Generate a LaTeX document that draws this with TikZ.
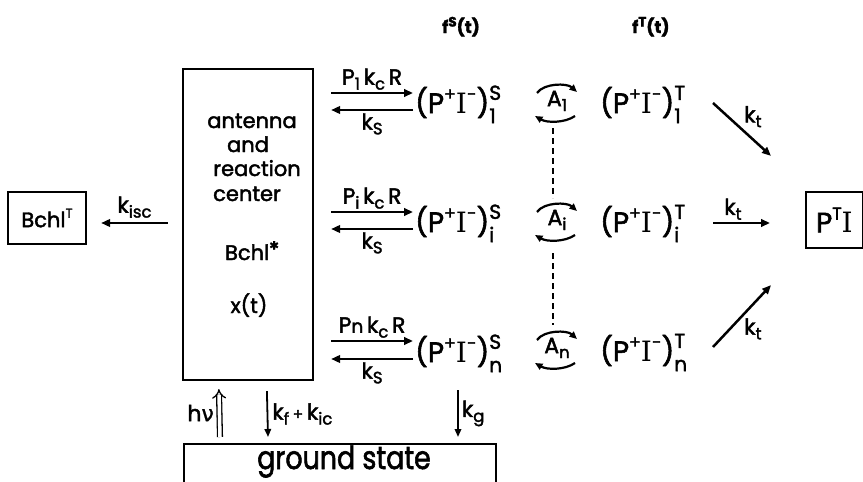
\documentclass[tikz,border=0pt]{standalone}
\usepackage{fontspec}
\usepackage{graphicx}
\setmainfont{Poppins}[FakeBold=2]
\newfontfamily\serI{DejaVu Serif}
\newfontfamily\grk{DejaVu Sans}[FakeBold=1]
\usetikzlibrary{arrows.meta,calc}
\newcommand\fz[1]{\fontsize{#1}{#1}\selectfont}
\newcommand\up[1]{\raisebox{0.45em}{\scalebox{0.62}{#1}}}
\newcommand\bup[1]{\raisebox{0.38em}{\scalebox{0.8}{#1}}}
\newcommand\dn[1]{\raisebox{-0.22em}{\scalebox{0.75}{#1}}}
\newcommand\ud[2]{\rlap{\raisebox{-0.36em}{\scalebox{0.72}{#2}}}\raisebox{0.47em}{\scalebox{0.72}{#1}}}
\newcommand\PIx{(P\up{+}{\serI I}\up{-})}
\tikzset{
  bx/.style={draw, line width=2.2pt, inner sep=0pt},
  txt/.style={font=\fz{21}, inner sep=0pt},
  lab/.style={font=\fz{22}, inner sep=1pt},
  hd/.style={font=\fz{17}\bfseries, inner sep=0pt},
  pinode/.style={font=\fz{28}, inner sep=0pt, anchor=base west},
  arr/.style={line width=2.5pt, -{Triangle[length=9pt,width=7.5pt]}},
  tarr/.style={line width=1.8pt, -{Triangle[length=8pt,width=6.5pt]}},
  cyc/.style={line width=2.2pt, -{Triangle[length=7.5pt,width=6.5pt]}},
  dsh/.style={line width=1.4pt, dash pattern=on 6pt off 4pt},
  dbl/.style={line width=1.3pt, double, double distance=3.5pt, -{Implies}},
}
\begin{document}
\begin{tikzpicture}[x=1pt,y=-1pt]
\useasboundingbox (0,0) rectangle (863,482);
% headers
\node[hd, anchor=base west] (fS) at (442,33) {f\bup{S}(t)};
\node[hd, anchor=base west] (fT) at (632,33) {f\bup{T}(t)};
% main box
\node[bx, minimum width=130pt, minimum height=311pt] (ant) at (248,224.5) {};
\node[txt, anchor=base] (l1) at (252,128) {antenna};
\node[txt, anchor=base] (l2) at (248,152) {and};
\node[txt, anchor=base] (l3) at (257,176) {reaction};
\node[txt, anchor=base] (l4) at (247,201) {center};
\node[txt, anchor=base] (l5) at (252,260) {Bchl\raisebox{0.5em}{\scalebox{0.55}{\grk ✱}}};
\node[txt, anchor=base] (l6) at (249,313) {x(t)};
% Bchl triplet
\node[bx, minimum width=78pt, minimum height=52pt, font=\fz{21}] (bt) at (47,218) {Bchl\up{T}};
\draw[arr] ($(ant.west)+(-14,-1.5)$) -- ($(bt.east)+(14,5)$) node[lab, midway, above=3pt] (kisc) {k\dn{isc}};
% radical pair states
\node[pinode] (s1) at (415,113) {\PIx\ud{S}{1}};
\node[pinode] (si) at (415,232) {\PIx\ud{S}{i}};
\node[pinode] (sn) at (415,362) {\PIx\ud{S}{n}};
\node[pinode] (t1) at (600,113) {\PIx\ud{T}{1}};
\node[pinode] (ti) at (600,232) {\PIx\ud{T}{i}};
\node[pinode] (tn) at (600,361) {\PIx\ud{T}{n}};
\node[bx, anchor=west, minimum height=56pt, inner xsep=10pt, font=\fz{28}] (pti) at (805,220) {P\up{T}{\serI I}};
% forward / backward arrows
\draw[arr] ($(ant.east|-s1.base)+(17,-20)$) -- ($(s1.base west)+(-2,-20)$) node[lab, midway, above=1pt] {P\dn{1}\,k\dn{c}\,R};
\draw[arr] ($(s1.base west)+(-2,-3)$) -- ($(ant.east|-s1.base)+(17,-3)$) node[lab, midway, below=1pt] {k\dn{S}};
\draw[arr] ($(ant.east|-si.base)+(17,-20)$) -- ($(si.base west)+(-2,-20)$) node[lab, midway, above=1pt] {P\dn{i}\,k\dn{c}\,R};
\draw[arr] ($(si.base west)+(-2,-3)$) -- ($(ant.east|-si.base)+(17,-3)$) node[lab, midway, below=1pt] {k\dn{S}};
\draw[arr] ($(ant.east|-sn.base)+(17,-21)$) -- ($(sn.base west)+(-2,-21)$) node[lab, midway, above=1pt] {P\scalebox{0.85}{n}\,k\dn{c}\,R};
\draw[arr] ($(sn.base west)+(-2,-3)$) -- ($(ant.east|-sn.base)+(17,-3)$) node[lab, midway, below=1pt] {k\dn{S}};
% A cycles
\node[lab] (a1) at (557,101) {A\dn{1}};
\node[lab] (ai) at (557,220) {A\dn{i}};
\node[lab] (an) at (557,348) {A\dn{n}};
\foreach \a in {a1,ai,an}{
  \draw[cyc] ($(\a)+(-20,-8)$) .. controls ($(\a)+(-13,-18)$) and ($(\a)+(10,-18)$) .. ($(\a)+(20,-9)$);
  \draw[cyc] ($(\a)+(18,15)$) .. controls ($(\a)+(8,22)$) and ($(\a)+(-10,22)$) .. ($(\a)+(-22,15)$);
}
\draw[dsh] ($(a1)+(-4,27)$) -- ($(ai)+(-4,-22)$);
\draw[dsh] ($(ai)+(-4,33)$) -- ($(an)+(-4,-23)$);
% k_t arrows
\draw[arr] ($(pti.west|-t1.base)+(-92,-10)$) -- ($(pti.north west)+(-34,-35)$) node[lab, midway, anchor=south west] {k\dn{t}};
\draw[arr] ($(pti.west|-ti.base)+(-92,-9)$) -- ($(pti.west|-ti.base)+(-35,-9)$) node[lab, pos=0.35, above=1pt] {k\dn{t}};
\draw[arr] ($(pti.west|-tn.base)+(-92,-14)$) -- ($(pti.south west)+(-34,36)$) node[lab, midway, anchor=north west] {k\dn{t}};
% ground state
\node[bx, minimum width=312pt, minimum height=60pt, anchor=north west] (gs) at (183,443) {};
\node[font=\fz{32}, inner sep=0pt, anchor=base] (gst) at (344,469) {\scalebox{0.84}[1]{ground state}};
\draw[dbl] ($(gs.north west)+(37,-6)$) -- ($(ant.south west)+(37,8)$) node[lab, midway, left=4pt] {h{\grk ν}};
\draw[tarr] ($(ant.south west)+(85,10)$) -- ($(gs.north west)+(85,-6)$) node[lab, midway, right=3pt] {k\dn{f}\,\scalebox{0.7}{+}\,k\dn{ic}};
\draw[tarr] ($(gs.north west)+(275,-53)$) -- ($(gs.north west)+(275,-6)$) node[lab, midway, right=2pt] {k\dn{g}};
\end{tikzpicture}
\end{document}
